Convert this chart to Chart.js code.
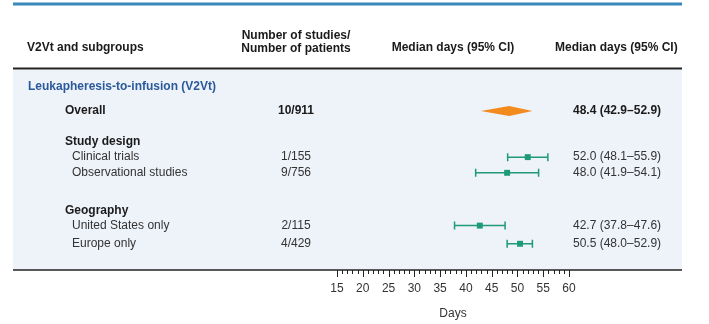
<!DOCTYPE html>
<html lang="en">
  <head>
    <meta charset="UTF-8" />
    <title>V2Vt forest plot</title>
    <script src="https://cdn.jsdelivr.net/npm/chart.js"></script>
    <style>
      body {
        margin: 0;
        background: #ffffff;
      }

      .chart-container {
        width: 709px;
        height: 324px;
        position: relative;
      }
    </style>
  </head>
  <body>
    <div class="chart-container">
      <canvas id="forestChart"></canvas>
    </div>

    <script>
      // rows of the table, top to bottom
      const rowLabels = [
        "Leukapheresis-to-infusion (V2Vt)",
        "Overall",
        "Study design",
        "Clinical trials",
        "Observational studies",
        "Geography",
        "United States only",
        "Europe only",
      ];
      const rowKinds = ["section", "overall", "group", "item", "item", "group", "item", "item"];
      // vertical slot of each row (in line units)
      const rowSlots = [0, 1.45, 3.3, 4.25, 5.2, 7.5, 8.4, 9.5];
      const studiesPatients = [null, "10/911", null, "1/155", "9/756", null, "2/115", "4/429"];
      const medianDays = [null, 48.4, null, 52.0, 48.0, null, 42.7, 50.5];
      const lowerCI = [null, 42.9, null, 48.1, 41.9, null, 37.8, 48.0];
      const upperCI = [null, 52.9, null, 55.9, 54.1, null, 47.6, 52.9];
      const xTickLabels = [15, 20, 25, 30, 35, 40, 45, 50, 55, 60];

      const FONT = "'Liberation Sans', Arial, sans-serif";
      const GREEN = "#1f9a78";
      const ORANGE = "#f28a1e";
      const PANEL_LEFT = 13;
      const PANEL_RIGHT = 682;

      const subgroupPoints = [];
      rowKinds.forEach((kind, i) => {
        if (kind === "item") subgroupPoints.push({ x: medianDays[i], y: rowSlots[i] });
      });

      const fmt = (v) => v.toFixed(1);

      const tablePlugin = {
        id: "forestTable",
        beforeDraw(chart) {
          const { ctx, scales } = chart;
          const top = scales.y.top;
          const bottom = scales.y.bottom;
          ctx.save();
          ctx.fillStyle = "#ffffff";
          ctx.fillRect(0, 0, chart.width, chart.height);
          // light panel behind the rows
          ctx.fillStyle = "#eef2f9";
          ctx.fillRect(PANEL_LEFT, top, PANEL_RIGHT - PANEL_LEFT, bottom - top);
          // top rule
          ctx.strokeStyle = "#3a88bb";
          ctx.lineWidth = 3;
          ctx.beginPath();
          ctx.moveTo(PANEL_LEFT, 4);
          ctx.lineTo(PANEL_RIGHT, 4);
          ctx.stroke();
          // header rule
          ctx.strokeStyle = "#222222";
          ctx.lineWidth = 2;
          ctx.beginPath();
          ctx.moveTo(PANEL_LEFT, top - 1.5);
          ctx.lineTo(PANEL_RIGHT, top - 1.5);
          ctx.stroke();

          // column headers
          ctx.fillStyle = "#1a1a1a";
          ctx.font = "bold 12px " + FONT;
          ctx.textBaseline = "middle";
          ctx.textAlign = "left";
          ctx.fillText("V2Vt and subgroups", 27, 48);
          ctx.textAlign = "center";
          ctx.fillText("Number of studies/", 296, 36);
          ctx.fillText("Number of patients", 296, 49);
          ctx.fillText("Median days (95% CI)", (scales.x.left + scales.x.right) / 2, 48);
          ctx.textAlign = "left";
          ctx.fillText("Median days (95% CI)", 555, 48);
          ctx.restore();
        },
        beforeDatasetsDraw(chart) {
          const { ctx, scales } = chart;
          const x = scales.x;
          const y = scales.y;
          ctx.save();
          rowKinds.forEach((kind, i) => {
            if (medianDays[i] === null) return;
            const py = y.getPixelForValue(rowSlots[i]);
            const pl = x.getPixelForValue(lowerCI[i]);
            const pm = x.getPixelForValue(medianDays[i]);
            const pu = x.getPixelForValue(upperCI[i]);
            if (kind === "overall") {
              ctx.fillStyle = ORANGE;
              ctx.beginPath();
              ctx.moveTo(pl, py);
              ctx.lineTo(pm, py - 5);
              ctx.lineTo(pu, py);
              ctx.lineTo(pm, py + 5);
              ctx.closePath();
              ctx.fill();
            } else {
              ctx.strokeStyle = GREEN;
              ctx.lineWidth = 1.5;
              ctx.beginPath();
              ctx.moveTo(pl, py);
              ctx.lineTo(pu, py);
              ctx.moveTo(pl, py - 4);
              ctx.lineTo(pl, py + 4);
              ctx.moveTo(pu, py - 4);
              ctx.lineTo(pu, py + 4);
              ctx.stroke();
            }
          });
          ctx.restore();
        },
        afterDraw(chart) {
          const { ctx, scales } = chart;
          const x = scales.x;
          const y = scales.y;
          ctx.save();
          ctx.textBaseline = "middle";
          rowLabels.forEach((label, i) => {
            const py = y.getPixelForValue(rowSlots[i]);
            const kind = rowKinds[i];
            ctx.textAlign = "left";
            if (kind === "section") {
              ctx.font = "bold 12px " + FONT;
              ctx.fillStyle = "#2a5a9a";
              ctx.fillText(label, 28, py);
            } else if (kind === "overall" || kind === "group") {
              ctx.font = "bold 12px " + FONT;
              ctx.fillStyle = "#1a1a1a";
              ctx.fillText(label, 65, py);
            } else {
              ctx.font = "12px " + FONT;
              ctx.fillStyle = "#333333";
              ctx.fillText(label, 72, py);
            }
            if (studiesPatients[i]) {
              ctx.textAlign = "center";
              ctx.fillText(studiesPatients[i], 296, py);
            }
            if (medianDays[i] !== null) {
              ctx.textAlign = "left";
              ctx.fillText(
                fmt(medianDays[i]) + " (" + fmt(lowerCI[i]) + "\u2013" + fmt(upperCI[i]) + ")",
                573,
                py
              );
            }
          });

          // bottom rule and axis tick marks
          ctx.strokeStyle = "#222222";
          ctx.lineWidth = 1.5;
          ctx.beginPath();
          ctx.moveTo(PANEL_LEFT, y.bottom);
          ctx.lineTo(PANEL_RIGHT, y.bottom);
          ctx.stroke();
          ctx.lineWidth = 1;
          ctx.beginPath();
          x.ticks.forEach((t) => {
            const px = Math.round(x.getPixelForValue(t.value)) + 0.5;
            const len = t.value % 5 === 0 ? 7 : 4;
            ctx.moveTo(px, y.bottom);
            ctx.lineTo(px, y.bottom + len);
          });
          ctx.stroke();
          ctx.restore();
        },
      };

      const ctx = document.getElementById("forestChart").getContext("2d");

      const forestChart = new Chart(ctx, {
        type: "scatter",
        data: {
          datasets: [
            {
              label: "Median days",
              data: subgroupPoints,
              pointStyle: "rect",
              pointRadius: 4.2,
              pointHoverRadius: 4.2,
              backgroundColor: GREEN,
              borderColor: GREEN,
              borderWidth: 0,
            },
          ],
        },
        options: {
          responsive: true,
          maintainAspectRatio: false,
          animation: false,
          events: [],
          layout: {
            padding: { left: 337, right: 140, top: 70, bottom: 0 },
          },
          plugins: {
            legend: { display: false },
            tooltip: { enabled: false },
          },
          scales: {
            x: {
              type: "linear",
              min: 15,
              max: 60,
              position: "bottom",
              afterFit(scale) {
                scale.height = 54;
              },
              grid: { display: false, drawTicks: false },
              border: { display: false },
              ticks: {
                stepSize: 1,
                autoSkip: false,
                maxRotation: 0,
                padding: 11,
                color: "#333333",
                font: { family: FONT, size: 12 },
                callback: (v) => (xTickLabels.includes(v) ? String(v) : ""),
              },
              title: {
                display: true,
                text: "Days",
                color: "#333333",
                font: { family: FONT, size: 12 },
                padding: { top: 4, bottom: 3 },
              },
            },
            y: {
              type: "linear",
              reverse: true,
              min: -1.03,
              max: 11.09,
              display: false,
            },
          },
        },
        plugins: [tablePlugin],
      });
    </script>
  </body>
</html>
